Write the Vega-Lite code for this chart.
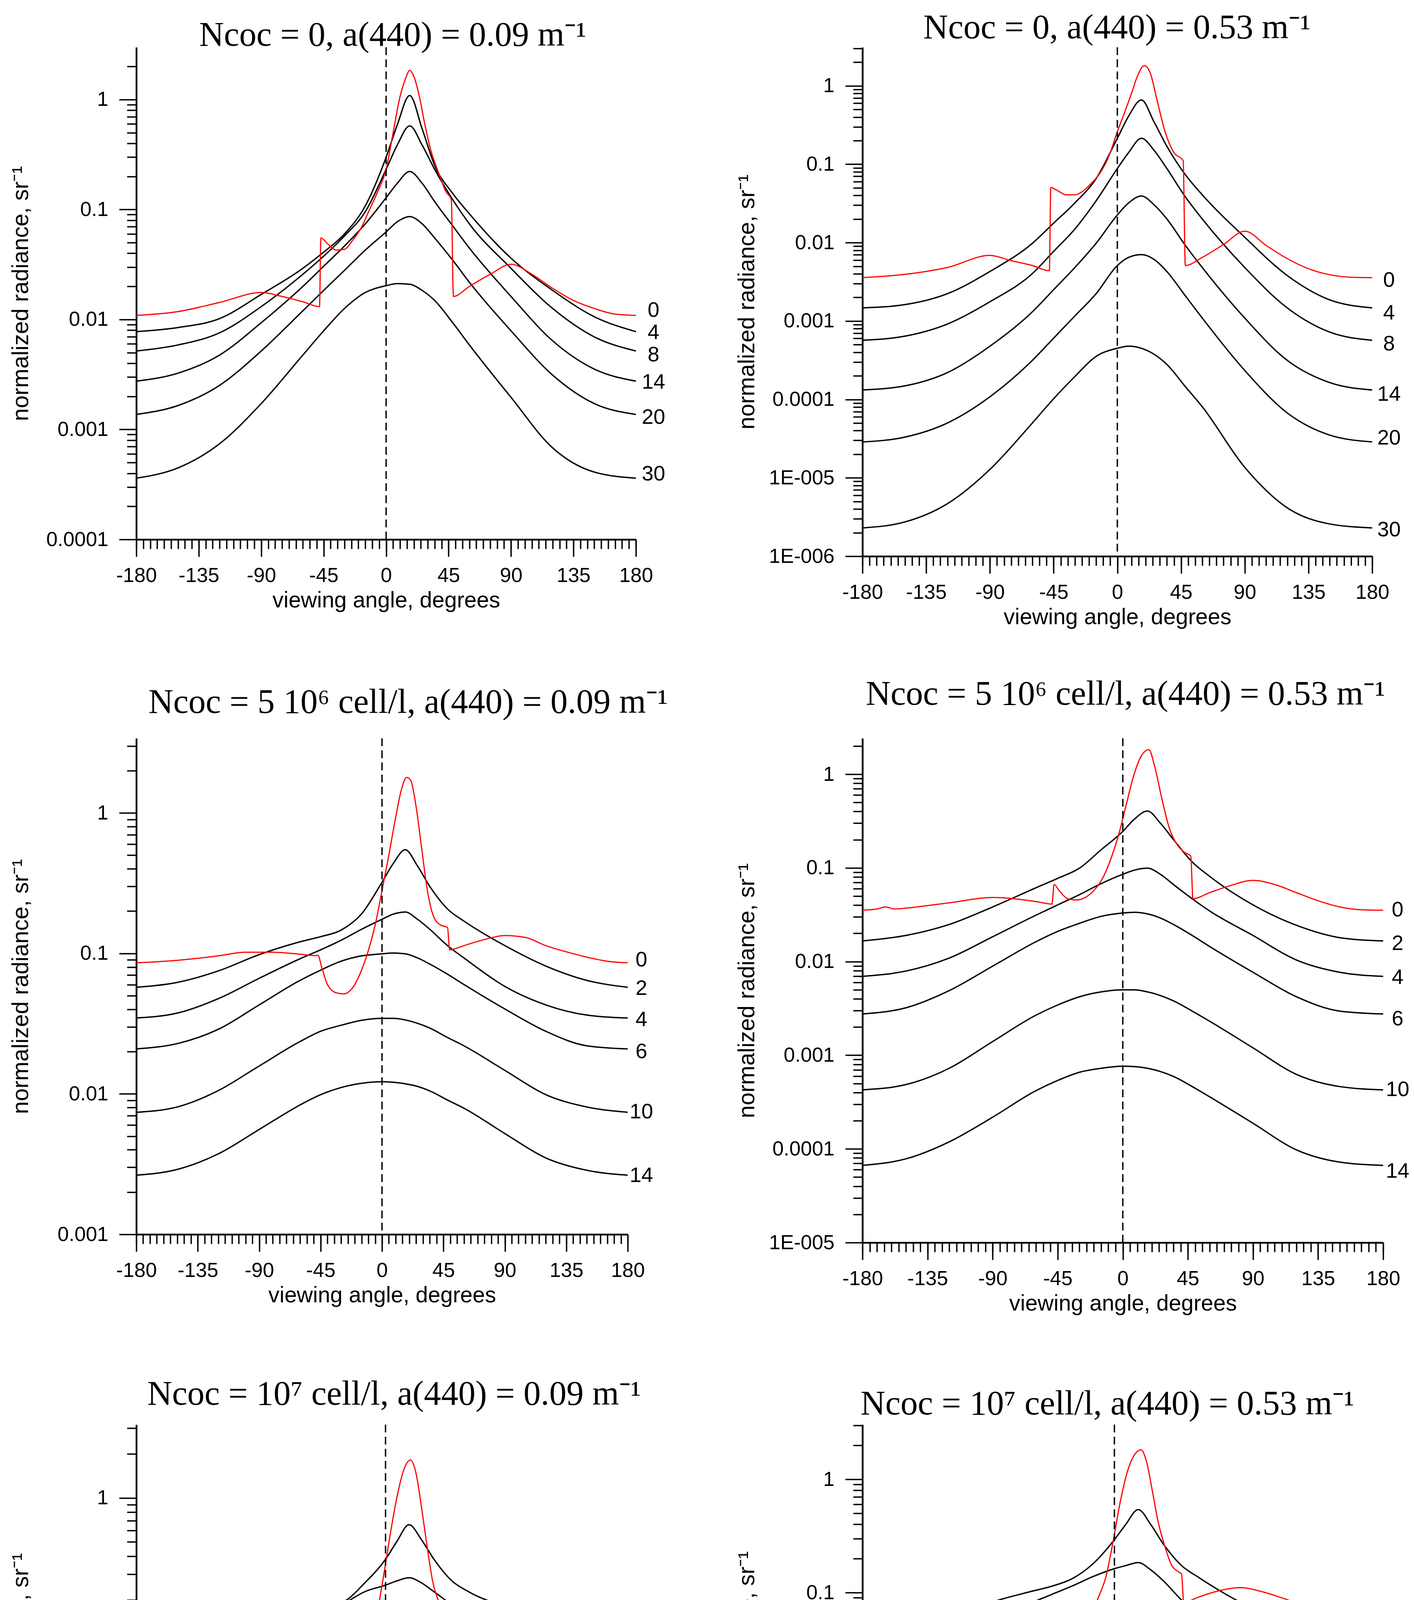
{
  "$schema": "https://vega.github.io/schema/vega-lite/v6.json",
  "padding": {"left": 24, "top": 28, "right": 0, "bottom": 0},
  "background": "white",
  "bounds": "flush",
  "columns": 2,
  "spacing": {"row": 466, "column": 580},
  "datasets": {
    "labels": [
      {"p":1,"d":"0","y":0.01205},{"p":1,"d":"4","y":0.00757},{"p":1,"d":"8","y":0.00475},{"p":1,"d":"14","y":0.00268},{"p":1,"d":"20","y":0.00128},{"p":1,"d":"30","y":0.000393},
      {"p":2,"d":"0","y":0.0033},{"p":2,"d":"4","y":0.00126},{"p":2,"d":"8","y":0.000506},{"p":2,"d":"14","y":0.000115},{"p":2,"d":"20","y":3.19e-5},{"p":2,"d":"30","y":2.16e-6},
      {"p":3,"d":"0","y":0.0898},{"p":3,"d":"2","y":0.0562},{"p":3,"d":"4","y":0.0336},{"p":3,"d":"6","y":0.0199},{"p":3,"d":"10","y":0.0074},{"p":3,"d":"14","y":0.00262},
      {"p":4,"d":"0","y":0.0353},{"p":4,"d":"2","y":0.0155},{"p":4,"d":"4","y":0.00675},{"p":4,"d":"6","y":0.00242},{"p":4,"d":"10","y":0.000427},{"p":4,"d":"14","y":5.74e-5},
      {"p":5,"d":"0","y":0.159},{"p":5,"d":"1","y":0.1009},{"p":5,"d":"2","y":0.064},{"p":5,"d":"4","y":0.0363},{"p":5,"d":"6","y":0.0175},{"p":5,"d":"8","y":0.0087},{"p":5,"d":"10","y":0.00462},
      {"p":6,"d":"0","y":0.0689},{"p":6,"d":"1","y":0.0379},{"p":6,"d":"2","y":0.0211},{"p":6,"d":"4","y":0.00705},{"p":6,"d":"6","y":0.00229},{"p":6,"d":"8","y":0.000615}
    ]
  },
  "data": {
    "values": [
      {"p":1,"d":"4","x":-180,"y":0.00776},{"p":1,"d":"4","x":-150,"y":0.00845},{"p":1,"d":"4","x":-120,"y":0.0102},{"p":1,"d":"4","x":-90,"y":0.0169},{"p":1,"d":"4","x":-60,"y":0.0292},{"p":1,"d":"4","x":-45,"y":0.041},{"p":1,"d":"4","x":-30,"y":0.06},{"p":1,"d":"4","x":-15,"y":0.108},{"p":1,"d":"4","x":0,"y":0.299},{"p":1,"d":"4","x":8,"y":0.587},{"p":1,"d":"4","x":17,"y":1.09},{"p":1,"d":"4","x":26,"y":0.54},{"p":1,"d":"4","x":35,"y":0.252},{"p":1,"d":"4","x":48,"y":0.14},{"p":1,"d":"4","x":60,"y":0.0915},{"p":1,"d":"4","x":90,"y":0.0361},{"p":1,"d":"4","x":120,"y":0.0184},{"p":1,"d":"4","x":150,"y":0.0106},{"p":1,"d":"4","x":180,"y":0.00776},
      {"p":1,"d":"8","x":-180,"y":0.00517},{"p":1,"d":"8","x":-150,"y":0.00587},{"p":1,"d":"8","x":-120,"y":0.00757},{"p":1,"d":"8","x":-90,"y":0.0131},{"p":1,"d":"8","x":-60,"y":0.0258},{"p":1,"d":"8","x":-45,"y":0.0377},{"p":1,"d":"8","x":-30,"y":0.0575},{"p":1,"d":"8","x":-15,"y":0.0955},{"p":1,"d":"8","x":0,"y":0.232},{"p":1,"d":"8","x":8,"y":0.385},{"p":1,"d":"8","x":17,"y":0.577},{"p":1,"d":"8","x":26,"y":0.385},{"p":1,"d":"8","x":35,"y":0.232},{"p":1,"d":"8","x":48,"y":0.123},{"p":1,"d":"8","x":60,"y":0.0741},{"p":1,"d":"8","x":90,"y":0.0292},{"p":1,"d":"8","x":120,"y":0.0126},{"p":1,"d":"8","x":150,"y":0.00695},{"p":1,"d":"8","x":180,"y":0.00517},
      {"p":1,"d":"14","x":-180,"y":0.00275},{"p":1,"d":"14","x":-150,"y":0.00325},{"p":1,"d":"14","x":-120,"y":0.00475},{"p":1,"d":"14","x":-90,"y":0.00935},{"p":1,"d":"14","x":-60,"y":0.02},{"p":1,"d":"14","x":-45,"y":0.0305},{"p":1,"d":"14","x":-30,"y":0.0466},{"p":1,"d":"14","x":-15,"y":0.0741},{"p":1,"d":"14","x":0,"y":0.128},{"p":1,"d":"14","x":8,"y":0.173},{"p":1,"d":"14","x":17,"y":0.222},{"p":1,"d":"14","x":26,"y":0.173},{"p":1,"d":"14","x":35,"y":0.118},{"p":1,"d":"14","x":48,"y":0.071},{"p":1,"d":"14","x":60,"y":0.0446},{"p":1,"d":"14","x":90,"y":0.0162},{"p":1,"d":"14","x":120,"y":0.0064},{"p":1,"d":"14","x":150,"y":0.00354},{"p":1,"d":"14","x":180,"y":0.00275},
      {"p":1,"d":"20","x":-180,"y":0.00137},{"p":1,"d":"20","x":-150,"y":0.00165},{"p":1,"d":"20","x":-120,"y":0.00252},{"p":1,"d":"20","x":-90,"y":0.00517},{"p":1,"d":"20","x":-60,"y":0.012},{"p":1,"d":"20","x":-45,"y":0.0184},{"p":1,"d":"20","x":-30,"y":0.028},{"p":1,"d":"20","x":-15,"y":0.0428},{"p":1,"d":"20","x":0,"y":0.0626},{"p":1,"d":"20","x":8,"y":0.0773},{"p":1,"d":"20","x":17,"y":0.0863},{"p":1,"d":"20","x":26,"y":0.0741},{"p":1,"d":"20","x":35,"y":0.0551},{"p":1,"d":"20","x":48,"y":0.0346},{"p":1,"d":"20","x":60,"y":0.0218},{"p":1,"d":"20","x":90,"y":0.00789},{"p":1,"d":"20","x":120,"y":0.00312},{"p":1,"d":"20","x":150,"y":0.00172},{"p":1,"d":"20","x":180,"y":0.00137},
      {"p":1,"d":"30","x":-180,"y":0.000361},{"p":1,"d":"30","x":-150,"y":0.000447},{"p":1,"d":"30","x":-120,"y":0.000742},{"p":1,"d":"30","x":-90,"y":0.00172},{"p":1,"d":"30","x":-60,"y":0.00475},{"p":1,"d":"30","x":-45,"y":0.00789},{"p":1,"d":"30","x":-30,"y":0.0126},{"p":1,"d":"30","x":-15,"y":0.0176},{"p":1,"d":"30","x":0,"y":0.0203},{"p":1,"d":"30","x":8,"y":0.0212},{"p":1,"d":"30","x":17,"y":0.0209},{"p":1,"d":"30","x":26,"y":0.0184},{"p":1,"d":"30","x":35,"y":0.0149},{"p":1,"d":"30","x":48,"y":0.00935},{"p":1,"d":"30","x":60,"y":0.00587},{"p":1,"d":"30","x":90,"y":0.00196},{"p":1,"d":"30","x":120,"y":0.00068},{"p":1,"d":"30","x":150,"y":0.00041},{"p":1,"d":"30","x":180,"y":0.000361},
      {"p":1,"d":"0","x":-180,"y":0.0109},{"p":1,"d":"0","x":-150,"y":0.0118},{"p":1,"d":"0","x":-120,"y":0.0143},{"p":1,"d":"0","x":-90,"y":0.0176},{"p":1,"d":"0","x":-75,"y":0.0162},{"p":1,"d":"0","x":-60,"y":0.0145},{"p":1,"d":"0","x":-48,"y":0.0131},{"p":1,"d":"0","x":-47,"y":0.0551},{"p":1,"d":"0","x":-42,"y":0.0486},{"p":1,"d":"0","x":-36,"y":0.0428},{"p":1,"d":"0","x":-30,"y":0.0435},{"p":1,"d":"0","x":-24,"y":0.0528},{"p":1,"d":"0","x":-18,"y":0.0681},{"p":1,"d":"0","x":-12,"y":0.0996},{"p":1,"d":"0","x":-6,"y":0.146},{"p":1,"d":"0","x":0,"y":0.232},{"p":1,"d":"0","x":5,"y":0.496},{"p":1,"d":"0","x":10,"y":1.06},{"p":1,"d":"0","x":14,"y":1.55},{"p":1,"d":"0","x":17,"y":1.84},{"p":1,"d":"0","x":20,"y":1.62},{"p":1,"d":"0","x":24,"y":1.06},{"p":1,"d":"0","x":28,"y":0.587},{"p":1,"d":"0","x":32,"y":0.354},{"p":1,"d":"0","x":38,"y":0.213},{"p":1,"d":"0","x":43,"y":0.146},{"p":1,"d":"0","x":47,"y":0.123},{"p":1,"d":"0","x":48.5,"y":0.0162},{"p":1,"d":"0","x":60,"y":0.02},{"p":1,"d":"0","x":75,"y":0.0258},{"p":1,"d":"0","x":90,"y":0.0318},{"p":1,"d":"0","x":105,"y":0.0258},{"p":1,"d":"0","x":120,"y":0.0192},{"p":1,"d":"0","x":135,"y":0.0149},{"p":1,"d":"0","x":150,"y":0.0126},{"p":1,"d":"0","x":165,"y":0.0112},{"p":1,"d":"0","x":180,"y":0.0109},

      {"p":2,"d":"4","x":-180,"y":0.00147},{"p":2,"d":"4","x":-150,"y":0.00162},{"p":2,"d":"4","x":-120,"y":0.00223},{"p":2,"d":"4","x":-90,"y":0.00428},{"p":2,"d":"4","x":-60,"y":0.0098},{"p":2,"d":"4","x":-45,"y":0.0177},{"p":2,"d":"4","x":-30,"y":0.0321},{"p":2,"d":"4","x":-15,"y":0.0654},{"p":2,"d":"4","x":0,"y":0.214},{"p":2,"d":"4","x":8,"y":0.411},{"p":2,"d":"4","x":17,"y":0.661},{"p":2,"d":"4","x":26,"y":0.344},{"p":2,"d":"4","x":35,"y":0.169},{"p":2,"d":"4","x":48,"y":0.0736},{"p":2,"d":"4","x":60,"y":0.0407},{"p":2,"d":"4","x":90,"y":0.0117},{"p":2,"d":"4","x":120,"y":0.0038},{"p":2,"d":"4","x":150,"y":0.00186},{"p":2,"d":"4","x":180,"y":0.00147},
      {"p":2,"d":"8","x":-180,"y":0.000569},{"p":2,"d":"8","x":-150,"y":0.000641},{"p":2,"d":"8","x":-120,"y":0.000915},{"p":2,"d":"8","x":-90,"y":0.00176},{"p":2,"d":"8","x":-60,"y":0.00403},{"p":2,"d":"8","x":-45,"y":0.00773},{"p":2,"d":"8","x":-30,"y":0.0149},{"p":2,"d":"8","x":-15,"y":0.0341},{"p":2,"d":"8","x":0,"y":0.088},{"p":2,"d":"8","x":8,"y":0.141},{"p":2,"d":"8","x":17,"y":0.214},{"p":2,"d":"8","x":26,"y":0.15},{"p":2,"d":"8","x":35,"y":0.088},{"p":2,"d":"8","x":48,"y":0.0384},{"p":2,"d":"8","x":60,"y":0.02},{"p":2,"d":"8","x":90,"y":0.00481},{"p":2,"d":"8","x":120,"y":0.00147},{"p":2,"d":"8","x":150,"y":0.000722},{"p":2,"d":"8","x":180,"y":0.000569},
      {"p":2,"d":"14","x":-180,"y":0.000132},{"p":2,"d":"14","x":-150,"y":0.000149},{"p":2,"d":"14","x":-120,"y":0.00022},{"p":2,"d":"14","x":-90,"y":0.000477},{"p":2,"d":"14","x":-60,"y":0.00131},{"p":2,"d":"14","x":-45,"y":0.00251},{"p":2,"d":"14","x":-30,"y":0.00481},{"p":2,"d":"14","x":-15,"y":0.0098},{"p":2,"d":"14","x":0,"y":0.0225},{"p":2,"d":"14","x":8,"y":0.0321},{"p":2,"d":"14","x":17,"y":0.0393},{"p":2,"d":"14","x":26,"y":0.0303},{"p":2,"d":"14","x":35,"y":0.02},{"p":2,"d":"14","x":48,"y":0.00924},{"p":2,"d":"14","x":60,"y":0.00481},{"p":2,"d":"14","x":90,"y":0.00109},{"p":2,"d":"14","x":120,"y":0.000315},{"p":2,"d":"14","x":150,"y":0.000164},{"p":2,"d":"14","x":180,"y":0.000132},
      {"p":2,"d":"20","x":-180,"y":2.87e-5},{"p":2,"d":"20","x":-150,"y":3.31e-5},{"p":2,"d":"20","x":-120,"y":5.01e-5},{"p":2,"d":"20","x":-90,"y":0.000108},{"p":2,"d":"20","x":-60,"y":0.000315},{"p":2,"d":"20","x":-45,"y":0.000604},{"p":2,"d":"20","x":-30,"y":0.00116},{"p":2,"d":"20","x":-15,"y":0.00223},{"p":2,"d":"20","x":0,"y":0.0051},{"p":2,"d":"20","x":8,"y":0.00648},{"p":2,"d":"20","x":17,"y":0.00703},{"p":2,"d":"20","x":26,"y":0.0061},{"p":2,"d":"20","x":35,"y":0.00428},{"p":2,"d":"20","x":48,"y":0.0021},{"p":2,"d":"20","x":60,"y":0.00109},{"p":2,"d":"20","x":90,"y":0.000234},{"p":2,"d":"20","x":120,"y":6.73e-5},{"p":2,"d":"20","x":150,"y":3.51e-5},{"p":2,"d":"20","x":180,"y":2.87e-5},
      {"p":2,"d":"30","x":-180,"y":2.3e-6},{"p":2,"d":"30","x":-150,"y":2.74e-6},{"p":2,"d":"30","x":-120,"y":4.68e-6},{"p":2,"d":"30","x":-90,"y":1.28e-5},{"p":2,"d":"30","x":-60,"y":5.01e-5},{"p":2,"d":"30","x":-45,"y":0.000102},{"p":2,"d":"30","x":-30,"y":0.000196},{"p":2,"d":"30","x":-15,"y":0.000354},{"p":2,"d":"30","x":0,"y":0.000449},{"p":2,"d":"30","x":8,"y":0.000477},{"p":2,"d":"30","x":17,"y":0.000449},{"p":2,"d":"30","x":26,"y":0.000376},{"p":2,"d":"30","x":35,"y":0.000279},{"p":2,"d":"30","x":48,"y":0.000146},{"p":2,"d":"30","x":60,"y":8.05e-5},{"p":2,"d":"30","x":90,"y":1.36e-5},{"p":2,"d":"30","x":120,"y":4.15e-6},{"p":2,"d":"30","x":150,"y":2.58e-6},{"p":2,"d":"30","x":180,"y":2.3e-6},
      {"p":2,"d":"0","x":-180,"y":0.00358},{"p":2,"d":"0","x":-150,"y":0.00394},{"p":2,"d":"0","x":-120,"y":0.00482},{"p":2,"d":"0","x":-90,"y":0.00687},{"p":2,"d":"0","x":-75,"y":0.00589},{"p":2,"d":"0","x":-60,"y":0.0051},{"p":2,"d":"0","x":-48,"y":0.00438},{"p":2,"d":"0","x":-47,"y":0.0504},{"p":2,"d":"0","x":-43,"y":0.0469},{"p":2,"d":"0","x":-36,"y":0.0407},{"p":2,"d":"0","x":-30,"y":0.0407},{"p":2,"d":"0","x":-24,"y":0.0458},{"p":2,"d":"0","x":-18,"y":0.058},{"p":2,"d":"0","x":-12,"y":0.078},{"p":2,"d":"0","x":-6,"y":0.126},{"p":2,"d":"0","x":0,"y":0.26},{"p":2,"d":"0","x":5,"y":0.45},{"p":2,"d":"0","x":10,"y":0.8},{"p":2,"d":"0","x":14,"y":1.3},{"p":2,"d":"0","x":19,"y":1.81},{"p":2,"d":"0","x":23,"y":1.5},{"p":2,"d":"0","x":28,"y":0.66},{"p":2,"d":"0","x":34,"y":0.25},{"p":2,"d":"0","x":40,"y":0.14},{"p":2,"d":"0","x":46.5,"y":0.111},{"p":2,"d":"0","x":48,"y":0.0051},{"p":2,"d":"0","x":60,"y":0.00648},{"p":2,"d":"0","x":75,"y":0.00946},{"p":2,"d":"0","x":90,"y":0.014},{"p":2,"d":"0","x":105,"y":0.00924},{"p":2,"d":"0","x":120,"y":0.00625},{"p":2,"d":"0","x":135,"y":0.00465},{"p":2,"d":"0","x":150,"y":0.00389},{"p":2,"d":"0","x":165,"y":0.00362},{"p":2,"d":"0","x":180,"y":0.00358},

      {"p":3,"d":"2","x":-180,"y":0.0574},{"p":3,"d":"2","x":-150,"y":0.0622},{"p":3,"d":"2","x":-120,"y":0.075},{"p":3,"d":"2","x":-90,"y":0.098},{"p":3,"d":"2","x":-60,"y":0.121},{"p":3,"d":"2","x":-45,"y":0.1316},{"p":3,"d":"2","x":-30,"y":0.1465},{"p":3,"d":"2","x":-15,"y":0.191},{"p":3,"d":"2","x":0,"y":0.321},{"p":3,"d":"2","x":8,"y":0.433},{"p":3,"d":"2","x":17,"y":0.547},{"p":3,"d":"2","x":26,"y":0.419},{"p":3,"d":"2","x":35,"y":0.3},{"p":3,"d":"2","x":48,"y":0.207},{"p":3,"d":"2","x":60,"y":0.17},{"p":3,"d":"2","x":90,"y":0.1136},{"p":3,"d":"2","x":120,"y":0.0813},{"p":3,"d":"2","x":150,"y":0.0643},{"p":3,"d":"2","x":180,"y":0.0574},
      {"p":3,"d":"4","x":-180,"y":0.0347},{"p":3,"d":"4","x":-150,"y":0.0376},{"p":3,"d":"4","x":-120,"y":0.0476},{"p":3,"d":"4","x":-90,"y":0.0665},{"p":3,"d":"4","x":-60,"y":0.0917},{"p":3,"d":"4","x":-45,"y":0.106},{"p":3,"d":"4","x":-30,"y":0.124},{"p":3,"d":"4","x":-15,"y":0.1485},{"p":3,"d":"4","x":0,"y":0.175},{"p":3,"d":"4","x":8,"y":0.19},{"p":3,"d":"4","x":17,"y":0.197},{"p":3,"d":"4","x":26,"y":0.175},{"p":3,"d":"4","x":35,"y":0.1485},{"p":3,"d":"4","x":48,"y":0.1136},{"p":3,"d":"4","x":60,"y":0.0929},{"p":3,"d":"4","x":90,"y":0.0582},{"p":3,"d":"4","x":120,"y":0.043},{"p":3,"d":"4","x":150,"y":0.0364},{"p":3,"d":"4","x":180,"y":0.0347},
      {"p":3,"d":"6","x":-180,"y":0.0209},{"p":3,"d":"6","x":-150,"y":0.0228},{"p":3,"d":"6","x":-120,"y":0.0288},{"p":3,"d":"6","x":-90,"y":0.043},{"p":3,"d":"6","x":-60,"y":0.0643},{"p":3,"d":"6","x":-45,"y":0.076},{"p":3,"d":"6","x":-30,"y":0.088},{"p":3,"d":"6","x":-15,"y":0.0961},{"p":3,"d":"6","x":0,"y":0.0993},{"p":3,"d":"6","x":8,"y":0.1007},{"p":3,"d":"6","x":17,"y":0.0993},{"p":3,"d":"6","x":26,"y":0.0929},{"p":3,"d":"6","x":35,"y":0.084},{"p":3,"d":"6","x":48,"y":0.0711},{"p":3,"d":"6","x":60,"y":0.0601},{"p":3,"d":"6","x":90,"y":0.0402},{"p":3,"d":"6","x":120,"y":0.0279},{"p":3,"d":"6","x":150,"y":0.022},{"p":3,"d":"6","x":180,"y":0.0209},
      {"p":3,"d":"10","x":-180,"y":0.0074},{"p":3,"d":"10","x":-150,"y":0.00807},{"p":3,"d":"10","x":-120,"y":0.01055},{"p":3,"d":"10","x":-90,"y":0.0158},{"p":3,"d":"10","x":-60,"y":0.0236},{"p":3,"d":"10","x":-45,"y":0.0279},{"p":3,"d":"10","x":-30,"y":0.0308},{"p":3,"d":"10","x":-15,"y":0.0334},{"p":3,"d":"10","x":0,"y":0.0345},{"p":3,"d":"10","x":8,"y":0.0345},{"p":3,"d":"10","x":17,"y":0.0336},{"p":3,"d":"10","x":26,"y":0.0318},{"p":3,"d":"10","x":35,"y":0.0294},{"p":3,"d":"10","x":48,"y":0.0252},{"p":3,"d":"10","x":60,"y":0.022},{"p":3,"d":"10","x":90,"y":0.0147},{"p":3,"d":"10","x":120,"y":0.00987},{"p":3,"d":"10","x":150,"y":0.00807},{"p":3,"d":"10","x":180,"y":0.0074},
      {"p":3,"d":"14","x":-180,"y":0.00264},{"p":3,"d":"14","x":-150,"y":0.0029},{"p":3,"d":"14","x":-120,"y":0.00374},{"p":3,"d":"14","x":-90,"y":0.00558},{"p":3,"d":"14","x":-60,"y":0.00835},{"p":3,"d":"14","x":-45,"y":0.00987},{"p":3,"d":"14","x":-30,"y":0.0111},{"p":3,"d":"14","x":-15,"y":0.0119},{"p":3,"d":"14","x":0,"y":0.0122},{"p":3,"d":"14","x":8,"y":0.0121},{"p":3,"d":"14","x":17,"y":0.0118},{"p":3,"d":"14","x":26,"y":0.0113},{"p":3,"d":"14","x":35,"y":0.0105},{"p":3,"d":"14","x":48,"y":0.00904},{"p":3,"d":"14","x":60,"y":0.00791},{"p":3,"d":"14","x":90,"y":0.00522},{"p":3,"d":"14","x":120,"y":0.0035},{"p":3,"d":"14","x":150,"y":0.00286},{"p":3,"d":"14","x":180,"y":0.00264},
      {"p":3,"d":"0","x":-180,"y":0.0857},{"p":3,"d":"0","x":-150,"y":0.0893},{"p":3,"d":"0","x":-120,"y":0.0961},{"p":3,"d":"0","x":-100,"y":0.102},{"p":3,"d":"0","x":-80,"y":0.102},{"p":3,"d":"0","x":-60,"y":0.0987},{"p":3,"d":"0","x":-49,"y":0.0965},{"p":3,"d":"0","x":-47,"y":0.097},{"p":3,"d":"0","x":-44,"y":0.0786},{"p":3,"d":"0","x":-40,"y":0.0601},{"p":3,"d":"0","x":-34,"y":0.0526},{"p":3,"d":"0","x":-28,"y":0.0515},{"p":3,"d":"0","x":-22,"y":0.0562},{"p":3,"d":"0","x":-16,"y":0.072},{"p":3,"d":"0","x":-10,"y":0.105},{"p":3,"d":"0","x":-5,"y":0.16},{"p":3,"d":"0","x":0,"y":0.28},{"p":3,"d":"0","x":5,"y":0.5},{"p":3,"d":"0","x":10,"y":0.93},{"p":3,"d":"0","x":14,"y":1.44},{"p":3,"d":"0","x":18,"y":1.79},{"p":3,"d":"0","x":21,"y":1.71},{"p":3,"d":"0","x":25,"y":1.1},{"p":3,"d":"0","x":29,"y":0.566},{"p":3,"d":"0","x":33,"y":0.29},{"p":3,"d":"0","x":38,"y":0.181},{"p":3,"d":"0","x":43,"y":0.159},{"p":3,"d":"0","x":48,"y":0.153},{"p":3,"d":"0","x":49.5,"y":0.106},{"p":3,"d":"0","x":60,"y":0.1136},{"p":3,"d":"0","x":75,"y":0.1256},{"p":3,"d":"0","x":90,"y":0.134},{"p":3,"d":"0","x":105,"y":0.13},{"p":3,"d":"0","x":120,"y":0.1136},{"p":3,"d":"0","x":135,"y":0.1027},{"p":3,"d":"0","x":150,"y":0.0941},{"p":3,"d":"0","x":165,"y":0.088},{"p":3,"d":"0","x":180,"y":0.0857},

      {"p":4,"d":"2","x":-180,"y":0.0166},{"p":4,"d":"2","x":-150,"y":0.019},{"p":4,"d":"2","x":-120,"y":0.0249},{"p":4,"d":"2","x":-90,"y":0.0383},{"p":4,"d":"2","x":-60,"y":0.0614},{"p":4,"d":"2","x":-45,"y":0.0773},{"p":4,"d":"2","x":-30,"y":0.0993},{"p":4,"d":"2","x":-15,"y":0.156},{"p":4,"d":"2","x":0,"y":0.245},{"p":4,"d":"2","x":8,"y":0.331},{"p":4,"d":"2","x":17,"y":0.405},{"p":4,"d":"2","x":26,"y":0.3},{"p":4,"d":"2","x":35,"y":0.201},{"p":4,"d":"2","x":48,"y":0.1156},{"p":4,"d":"2","x":60,"y":0.0813},{"p":4,"d":"2","x":90,"y":0.0403},{"p":4,"d":"2","x":120,"y":0.0244},{"p":4,"d":"2","x":150,"y":0.018},{"p":4,"d":"2","x":180,"y":0.0166},
      {"p":4,"d":"4","x":-180,"y":0.00695},{"p":4,"d":"4","x":-150,"y":0.00792},{"p":4,"d":"4","x":-120,"y":0.0109},{"p":4,"d":"4","x":-90,"y":0.0184},{"p":4,"d":"4","x":-60,"y":0.0313},{"p":4,"d":"4","x":-45,"y":0.0403},{"p":4,"d":"4","x":-30,"y":0.0518},{"p":4,"d":"4","x":-15,"y":0.0679},{"p":4,"d":"4","x":0,"y":0.0855},{"p":4,"d":"4","x":8,"y":0.0946},{"p":4,"d":"4","x":17,"y":0.0993},{"p":4,"d":"4","x":26,"y":0.0855},{"p":4,"d":"4","x":35,"y":0.0665},{"p":4,"d":"4","x":48,"y":0.0468},{"p":4,"d":"4","x":60,"y":0.0347},{"p":4,"d":"4","x":90,"y":0.019},{"p":4,"d":"4","x":120,"y":0.0104},{"p":4,"d":"4","x":150,"y":0.00769},{"p":4,"d":"4","x":180,"y":0.00695},
      {"p":4,"d":"6","x":-180,"y":0.00276},{"p":4,"d":"6","x":-150,"y":0.00321},{"p":4,"d":"6","x":-120,"y":0.0049},{"p":4,"d":"6","x":-90,"y":0.00893},{"p":4,"d":"6","x":-60,"y":0.0163},{"p":4,"d":"6","x":-45,"y":0.021},{"p":4,"d":"6","x":-30,"y":0.0256},{"p":4,"d":"6","x":-15,"y":0.0304},{"p":4,"d":"6","x":0,"y":0.033},{"p":4,"d":"6","x":8,"y":0.0336},{"p":4,"d":"6","x":17,"y":0.0323},{"p":4,"d":"6","x":26,"y":0.0292},{"p":4,"d":"6","x":35,"y":0.0249},{"p":4,"d":"6","x":48,"y":0.019},{"p":4,"d":"6","x":60,"y":0.0145},{"p":4,"d":"6","x":90,"y":0.00769},{"p":4,"d":"6","x":120,"y":0.00421},{"p":4,"d":"6","x":150,"y":0.00296},{"p":4,"d":"6","x":180,"y":0.00276},
      {"p":4,"d":"10","x":-180,"y":0.000427},{"p":4,"d":"10","x":-150,"y":0.000486},{"p":4,"d":"10","x":-120,"y":0.000726},{"p":4,"d":"10","x":-90,"y":0.0014},{"p":4,"d":"10","x":-60,"y":0.00268},{"p":4,"d":"10","x":-45,"y":0.00344},{"p":4,"d":"10","x":-30,"y":0.00421},{"p":4,"d":"10","x":-15,"y":0.00475},{"p":4,"d":"10","x":0,"y":0.00499},{"p":4,"d":"10","x":8,"y":0.00499},{"p":4,"d":"10","x":17,"y":0.00475},{"p":4,"d":"10","x":26,"y":0.00434},{"p":4,"d":"10","x":35,"y":0.00381},{"p":4,"d":"10","x":48,"y":0.00296},{"p":4,"d":"10","x":60,"y":0.00231},{"p":4,"d":"10","x":90,"y":0.0012},{"p":4,"d":"10","x":120,"y":0.000625},{"p":4,"d":"10","x":150,"y":0.000463},{"p":4,"d":"10","x":180,"y":0.000427},
      {"p":4,"d":"14","x":-180,"y":6.67e-5},{"p":4,"d":"14","x":-150,"y":7.83e-5},{"p":4,"d":"14","x":-120,"y":0.000119},{"p":4,"d":"14","x":-90,"y":0.000218},{"p":4,"d":"14","x":-60,"y":0.000419},{"p":4,"d":"14","x":-45,"y":0.000538},{"p":4,"d":"14","x":-30,"y":0.000658},{"p":4,"d":"14","x":-15,"y":0.000726},{"p":4,"d":"14","x":0,"y":0.000764},{"p":4,"d":"14","x":8,"y":0.000757},{"p":4,"d":"14","x":17,"y":0.000726},{"p":4,"d":"14","x":26,"y":0.00067},{"p":4,"d":"14","x":35,"y":0.000594},{"p":4,"d":"14","x":48,"y":0.000463},{"p":4,"d":"14","x":60,"y":0.00036},{"p":4,"d":"14","x":90,"y":0.000188},{"p":4,"d":"14","x":120,"y":9.77e-5},{"p":4,"d":"14","x":150,"y":7.23e-5},{"p":4,"d":"14","x":180,"y":6.67e-5},
      {"p":4,"d":"0","x":-180,"y":0.0353},{"p":4,"d":"0","x":-170,"y":0.0364},{"p":4,"d":"0","x":-164,"y":0.0383},{"p":4,"d":"0","x":-158,"y":0.0364},{"p":4,"d":"0","x":-150,"y":0.0372},{"p":4,"d":"0","x":-120,"y":0.0424},{"p":4,"d":"0","x":-90,"y":0.0483},{"p":4,"d":"0","x":-75,"y":0.0468},{"p":4,"d":"0","x":-60,"y":0.0437},{"p":4,"d":"0","x":-49,"y":0.0411},{"p":4,"d":"0","x":-47.5,"y":0.0665},{"p":4,"d":"0","x":-44,"y":0.0573},{"p":4,"d":"0","x":-38,"y":0.0468},{"p":4,"d":"0","x":-32,"y":0.0454},{"p":4,"d":"0","x":-26,"y":0.0483},{"p":4,"d":"0","x":-20,"y":0.0573},{"p":4,"d":"0","x":-14,"y":0.0773},{"p":4,"d":"0","x":-8,"y":0.128},{"p":4,"d":"0","x":-3,"y":0.222},{"p":4,"d":"0","x":2,"y":0.448},{"p":4,"d":"0","x":7,"y":0.904},{"p":4,"d":"0","x":12,"y":1.49},{"p":4,"d":"0","x":18,"y":1.83},{"p":4,"d":"0","x":22,"y":1.22},{"p":4,"d":"0","x":27,"y":0.548},{"p":4,"d":"0","x":32,"y":0.271},{"p":4,"d":"0","x":38,"y":0.173},{"p":4,"d":"0","x":43,"y":0.1456},{"p":4,"d":"0","x":47,"y":0.134},{"p":4,"d":"0","x":48.5,"y":0.0468},{"p":4,"d":"0","x":60,"y":0.0544},{"p":4,"d":"0","x":75,"y":0.0652},{"p":4,"d":"0","x":90,"y":0.0736},{"p":4,"d":"0","x":105,"y":0.0665},{"p":4,"d":"0","x":120,"y":0.0544},{"p":4,"d":"0","x":135,"y":0.0446},{"p":4,"d":"0","x":150,"y":0.0383},{"p":4,"d":"0","x":165,"y":0.0357},{"p":4,"d":"0","x":180,"y":0.0353},

      {"p":5,"d":"1","x":-180,"y":0.1009},{"p":5,"d":"1","x":-150,"y":0.1117},{"p":5,"d":"1","x":-120,"y":0.1298},{"p":5,"d":"1","x":-90,"y":0.1467},{"p":5,"d":"1","x":-60,"y":0.168},{"p":5,"d":"1","x":-45,"y":0.18},{"p":5,"d":"1","x":-30,"y":0.1953},{"p":5,"d":"1","x":-15,"y":0.262},{"p":5,"d":"1","x":0,"y":0.38},{"p":5,"d":"1","x":8,"y":0.5},{"p":5,"d":"1","x":17,"y":0.656},{"p":5,"d":"1","x":26,"y":0.517},{"p":5,"d":"1","x":35,"y":0.38},{"p":5,"d":"1","x":48,"y":0.27},{"p":5,"d":"1","x":60,"y":0.228},{"p":5,"d":"1","x":90,"y":0.174},{"p":5,"d":"1","x":120,"y":0.1324},{"p":5,"d":"1","x":150,"y":0.1102},{"p":5,"d":"1","x":180,"y":0.1009},
      {"p":5,"d":"2","x":-180,"y":0.0728},{"p":5,"d":"2","x":-150,"y":0.0839},{"p":5,"d":"2","x":-120,"y":0.098},{"p":5,"d":"2","x":-90,"y":0.1197},{"p":5,"d":"2","x":-60,"y":0.1486},{"p":5,"d":"2","x":-45,"y":0.168},{"p":5,"d":"2","x":-30,"y":0.19},{"p":5,"d":"2","x":-15,"y":0.228},{"p":5,"d":"2","x":0,"y":0.253},{"p":5,"d":"2","x":8,"y":0.27},{"p":5,"d":"2","x":17,"y":0.284},{"p":5,"d":"2","x":26,"y":0.262},{"p":5,"d":"2","x":35,"y":0.228},{"p":5,"d":"2","x":48,"y":0.186},{"p":5,"d":"2","x":60,"y":0.1625},{"p":5,"d":"2","x":90,"y":0.1197},{"p":5,"d":"2","x":120,"y":0.0881},{"p":5,"d":"2","x":150,"y":0.0769},{"p":5,"d":"2","x":180,"y":0.0728},
      {"p":5,"d":"4","x":-180,"y":0.0368},{"p":5,"d":"4","x":-150,"y":0.0417},{"p":5,"d":"4","x":-120,"y":0.0547},{"p":5,"d":"4","x":-90,"y":0.0743},{"p":5,"d":"4","x":-60,"y":0.0942},{"p":5,"d":"4","x":-45,"y":0.103},{"p":5,"d":"4","x":-30,"y":0.1102},{"p":5,"d":"4","x":-15,"y":0.114},{"p":5,"d":"4","x":0,"y":0.1156},{"p":5,"d":"4","x":8,"y":0.1156},{"p":5,"d":"4","x":17,"y":0.1132},{"p":5,"d":"4","x":26,"y":0.1079},{"p":5,"d":"4","x":35,"y":0.1009},{"p":5,"d":"4","x":48,"y":0.0881},{"p":5,"d":"4","x":60,"y":0.0784},{"p":5,"d":"4","x":90,"y":0.0585},{"p":5,"d":"4","x":120,"y":0.0446},{"p":5,"d":"4","x":150,"y":0.0381},{"p":5,"d":"4","x":180,"y":0.0368},
      {"p":5,"d":"6","x":-180,"y":0.0182},{"p":5,"d":"6","x":-150,"y":0.0207},{"p":5,"d":"6","x":-120,"y":0.0267},{"p":5,"d":"6","x":-90,"y":0.0371},{"p":5,"d":"6","x":-60,"y":0.0477},{"p":5,"d":"6","x":-45,"y":0.0521},{"p":5,"d":"6","x":-30,"y":0.0554},{"p":5,"d":"6","x":-15,"y":0.057},{"p":5,"d":"6","x":0,"y":0.0573},{"p":5,"d":"6","x":8,"y":0.057},{"p":5,"d":"6","x":17,"y":0.0558},{"p":5,"d":"6","x":26,"y":0.0536},{"p":5,"d":"6","x":35,"y":0.05},{"p":5,"d":"6","x":48,"y":0.0446},{"p":5,"d":"6","x":60,"y":0.0397},{"p":5,"d":"6","x":90,"y":0.029},{"p":5,"d":"6","x":120,"y":0.0218},{"p":5,"d":"6","x":150,"y":0.019},{"p":5,"d":"6","x":180,"y":0.0182},
      {"p":5,"d":"8","x":-180,"y":0.00912},{"p":5,"d":"8","x":-150,"y":0.0103},{"p":5,"d":"8","x":-120,"y":0.0134},{"p":5,"d":"8","x":-90,"y":0.0184},{"p":5,"d":"8","x":-60,"y":0.0237},{"p":5,"d":"8","x":-45,"y":0.0259},{"p":5,"d":"8","x":-30,"y":0.0273},{"p":5,"d":"8","x":-15,"y":0.028},{"p":5,"d":"8","x":0,"y":0.0283},{"p":5,"d":"8","x":8,"y":0.028},{"p":5,"d":"8","x":17,"y":0.0275},{"p":5,"d":"8","x":26,"y":0.0264},{"p":5,"d":"8","x":35,"y":0.0247},{"p":5,"d":"8","x":48,"y":0.0221},{"p":5,"d":"8","x":60,"y":0.0197},{"p":5,"d":"8","x":90,"y":0.0145},{"p":5,"d":"8","x":120,"y":0.0109},{"p":5,"d":"8","x":150,"y":0.0095},{"p":5,"d":"8","x":180,"y":0.00912},
      {"p":5,"d":"10","x":-180,"y":0.00456},{"p":5,"d":"10","x":-150,"y":0.00515},{"p":5,"d":"10","x":-120,"y":0.00662},{"p":5,"d":"10","x":-90,"y":0.00912},{"p":5,"d":"10","x":-60,"y":0.0118},{"p":5,"d":"10","x":-45,"y":0.0128},{"p":5,"d":"10","x":-30,"y":0.0135},{"p":5,"d":"10","x":-15,"y":0.014},{"p":5,"d":"10","x":0,"y":0.0142},{"p":5,"d":"10","x":8,"y":0.0141},{"p":5,"d":"10","x":17,"y":0.0138},{"p":5,"d":"10","x":26,"y":0.0133},{"p":5,"d":"10","x":35,"y":0.0124},{"p":5,"d":"10","x":48,"y":0.011},{"p":5,"d":"10","x":60,"y":0.00984},{"p":5,"d":"10","x":90,"y":0.00724},{"p":5,"d":"10","x":120,"y":0.0054},{"p":5,"d":"10","x":150,"y":0.00472},{"p":5,"d":"10","x":180,"y":0.00456},
      {"p":5,"d":"0","x":-180,"y":0.1324},{"p":5,"d":"0","x":-150,"y":0.137},{"p":5,"d":"0","x":-120,"y":0.145},{"p":5,"d":"0","x":-90,"y":0.151},{"p":5,"d":"0","x":-60,"y":0.1486},{"p":5,"d":"0","x":-48,"y":0.145},{"p":5,"d":"0","x":-45,"y":0.1156},{"p":5,"d":"0","x":-42,"y":0.0851},{"p":5,"d":"0","x":-37,"y":0.0657},{"p":5,"d":"0","x":-32,"y":0.0585},{"p":5,"d":"0","x":-27,"y":0.0573},{"p":5,"d":"0","x":-22,"y":0.0605},{"p":5,"d":"0","x":-17,"y":0.0718},{"p":5,"d":"0","x":-12,"y":0.0942},{"p":5,"d":"0","x":-7,"y":0.147},{"p":5,"d":"0","x":-2,"y":0.27},{"p":5,"d":"0","x":3,"y":0.535},{"p":5,"d":"0","x":8,"y":0.986},{"p":5,"d":"0","x":13,"y":1.54},{"p":5,"d":"0","x":18,"y":1.82},{"p":5,"d":"0","x":22,"y":1.48},{"p":5,"d":"0","x":26,"y":0.861},{"p":5,"d":"0","x":30,"y":0.467},{"p":5,"d":"0","x":34,"y":0.27},{"p":5,"d":"0","x":39,"y":0.193},{"p":5,"d":"0","x":44,"y":0.176},{"p":5,"d":"0","x":46,"y":0.184},{"p":5,"d":"0","x":47.5,"y":0.176},{"p":5,"d":"0","x":48.5,"y":0.155},{"p":5,"d":"0","x":60,"y":0.166},{"p":5,"d":"0","x":75,"y":0.176},{"p":5,"d":"0","x":90,"y":0.184},{"p":5,"d":"0","x":105,"y":0.18},{"p":5,"d":"0","x":120,"y":0.1625},{"p":5,"d":"0","x":135,"y":0.147},{"p":5,"d":"0","x":150,"y":0.137},{"p":5,"d":"0","x":165,"y":0.1324},{"p":5,"d":"0","x":180,"y":0.1324},

      {"p":6,"d":"1","x":-180,"y":0.04},{"p":6,"d":"1","x":-150,"y":0.0445},{"p":6,"d":"1","x":-120,"y":0.0578},{"p":6,"d":"1","x":-90,"y":0.0807},{"p":6,"d":"1","x":-60,"y":0.102},{"p":6,"d":"1","x":-45,"y":0.1136},{"p":6,"d":"1","x":-30,"y":0.133},{"p":6,"d":"1","x":-15,"y":0.181},{"p":6,"d":"1","x":0,"y":0.293},{"p":6,"d":"1","x":8,"y":0.398},{"p":6,"d":"1","x":17,"y":0.541},{"p":6,"d":"1","x":26,"y":0.398},{"p":6,"d":"1","x":35,"y":0.268},{"p":6,"d":"1","x":48,"y":0.173},{"p":6,"d":"1","x":60,"y":0.1366},{"p":6,"d":"1","x":90,"y":0.082},{"p":6,"d":"1","x":120,"y":0.0553},{"p":6,"d":"1","x":150,"y":0.0437},{"p":6,"d":"1","x":180,"y":0.04},
      {"p":6,"d":"2","x":-180,"y":0.0228},{"p":6,"d":"2","x":-150,"y":0.0267},{"p":6,"d":"2","x":-120,"y":0.0373},{"p":6,"d":"2","x":-90,"y":0.0553},{"p":6,"d":"2","x":-60,"y":0.0807},{"p":6,"d":"2","x":-45,"y":0.0961},{"p":6,"d":"2","x":-30,"y":0.1146},{"p":6,"d":"2","x":-15,"y":0.139},{"p":6,"d":"2","x":0,"y":0.1627},{"p":6,"d":"2","x":8,"y":0.173},{"p":6,"d":"2","x":17,"y":0.184},{"p":6,"d":"2","x":26,"y":0.1585},{"p":6,"d":"2","x":35,"y":0.127},{"p":6,"d":"2","x":48,"y":0.0858},{"p":6,"d":"2","x":60,"y":0.0631},{"p":6,"d":"2","x":90,"y":0.0373},{"p":6,"d":"2","x":120,"y":0.0274},{"p":6,"d":"2","x":150,"y":0.024},{"p":6,"d":"2","x":180,"y":0.0228},
      {"p":6,"d":"4","x":-180,"y":0.00686},{"p":6,"d":"4","x":-150,"y":0.00803},{"p":6,"d":"4","x":-120,"y":0.0114},{"p":6,"d":"4","x":-90,"y":0.0185},{"p":6,"d":"4","x":-60,"y":0.0292},{"p":6,"d":"4","x":-45,"y":0.0341},{"p":6,"d":"4","x":-30,"y":0.0389},{"p":6,"d":"4","x":-15,"y":0.0425},{"p":6,"d":"4","x":0,"y":0.0437},{"p":6,"d":"4","x":8,"y":0.0437},{"p":6,"d":"4","x":17,"y":0.0421},{"p":6,"d":"4","x":26,"y":0.0389},{"p":6,"d":"4","x":35,"y":0.0348},{"p":6,"d":"4","x":48,"y":0.0282},{"p":6,"d":"4","x":60,"y":0.023},{"p":6,"d":"4","x":90,"y":0.0142},{"p":6,"d":"4","x":120,"y":0.00916},{"p":6,"d":"4","x":150,"y":0.00736},{"p":6,"d":"4","x":180,"y":0.00686},
      {"p":6,"d":"6","x":-180,"y":0.00206},{"p":6,"d":"6","x":-150,"y":0.00239},{"p":6,"d":"6","x":-120,"y":0.00343},{"p":6,"d":"6","x":-90,"y":0.00565},{"p":6,"d":"6","x":-60,"y":0.00877},{"p":6,"d":"6","x":-45,"y":0.0102},{"p":6,"d":"6","x":-30,"y":0.0117},{"p":6,"d":"6","x":-15,"y":0.0127},{"p":6,"d":"6","x":0,"y":0.013},{"p":6,"d":"6","x":8,"y":0.0129},{"p":6,"d":"6","x":17,"y":0.0125},{"p":6,"d":"6","x":26,"y":0.0117},{"p":6,"d":"6","x":35,"y":0.0104},{"p":6,"d":"6","x":48,"y":0.00853},{"p":6,"d":"6","x":60,"y":0.00705},{"p":6,"d":"6","x":90,"y":0.00424},{"p":6,"d":"6","x":120,"y":0.00273},{"p":6,"d":"6","x":150,"y":0.00221},{"p":6,"d":"6","x":180,"y":0.00206},
      {"p":6,"d":"8","x":-180,"y":0.000604},{"p":6,"d":"8","x":-150,"y":0.000708},{"p":6,"d":"8","x":-120,"y":0.001},{"p":6,"d":"8","x":-90,"y":0.00166},{"p":6,"d":"8","x":-60,"y":0.00257},{"p":6,"d":"8","x":-45,"y":0.00306},{"p":6,"d":"8","x":-30,"y":0.00349},{"p":6,"d":"8","x":-15,"y":0.00378},{"p":6,"d":"8","x":0,"y":0.00388},{"p":6,"d":"8","x":8,"y":0.00385},{"p":6,"d":"8","x":17,"y":0.00372},{"p":6,"d":"8","x":26,"y":0.00349},{"p":6,"d":"8","x":35,"y":0.00314},{"p":6,"d":"8","x":48,"y":0.00257},{"p":6,"d":"8","x":60,"y":0.0021},{"p":6,"d":"8","x":90,"y":0.00127},{"p":6,"d":"8","x":120,"y":0.00082},{"p":6,"d":"8","x":150,"y":0.000659},{"p":6,"d":"8","x":180,"y":0.000604},
      {"p":6,"d":"0","x":-180,"y":0.0631},{"p":6,"d":"0","x":-170,"y":0.0643},{"p":6,"d":"0","x":-163,"y":0.0677},{"p":6,"d":"0","x":-158,"y":0.0665},{"p":6,"d":"0","x":-150,"y":0.0677},{"p":6,"d":"0","x":-120,"y":0.0726},{"p":6,"d":"0","x":-90,"y":0.0779},{"p":6,"d":"0","x":-75,"y":0.0779},{"p":6,"d":"0","x":-60,"y":0.0752},{"p":6,"d":"0","x":-48,"y":0.0726},{"p":6,"d":"0","x":-46.5,"y":0.0835},{"p":6,"d":"0","x":-43,"y":0.0726},{"p":6,"d":"0","x":-38,"y":0.0589},{"p":6,"d":"0","x":-33,"y":0.0507},{"p":6,"d":"0","x":-28,"y":0.0493},{"p":6,"d":"0","x":-23,"y":0.053},{"p":6,"d":"0","x":-17,"y":0.0659},{"p":6,"d":"0","x":-11,"y":0.0936},{"p":6,"d":"0","x":-6,"y":0.139},{"p":6,"d":"0","x":-1,"y":0.28},{"p":6,"d":"0","x":4,"y":0.617},{"p":6,"d":"0","x":9,"y":1.14},{"p":6,"d":"0","x":14,"y":1.62},{"p":6,"d":"0","x":19,"y":1.82},{"p":6,"d":"0","x":23,"y":1.42},{"p":6,"d":"0","x":27,"y":0.803},{"p":6,"d":"0","x":31,"y":0.435},{"p":6,"d":"0","x":36,"y":0.257},{"p":6,"d":"0","x":41,"y":0.173},{"p":6,"d":"0","x":46,"y":0.152},{"p":6,"d":"0","x":48,"y":0.145},{"p":6,"d":"0","x":49.5,"y":0.082},{"p":6,"d":"0","x":60,"y":0.0912},{"p":6,"d":"0","x":75,"y":0.104},{"p":6,"d":"0","x":90,"y":0.1106},{"p":6,"d":"0","x":105,"y":0.1022},{"p":6,"d":"0","x":120,"y":0.0896},{"p":6,"d":"0","x":135,"y":0.0772},{"p":6,"d":"0","x":150,"y":0.0689},{"p":6,"d":"0","x":165,"y":0.0643},{"p":6,"d":"0","x":180,"y":0.0631}
    ]
  },
  "concat": [
    {
      "width": 1279, "height": 1260,
      "title": {"text": "Ncoc = 0, a(440) = 0.09 m⁻¹", "dx": 17, "offset": -16},
      "transform": [{"filter": "datum.p == 1"}],
      "layer": [
        {"transform": [{"filter": "datum.d != '0'"}],
         "mark": {"type": "line", "color": "black", "strokeWidth": 3.5, "interpolate": "monotone"},
         "encoding": {
           "x": {"field": "x", "type": "quantitative", "scale": {"domain": [-180, 180], "nice": false, "zero": false},
                 "axis": {"orient": "bottom", "title": "viewing angle, degrees", "values": [-180,-135,-90,-45,0,45,90,135,180]}},
           "y": {"field": "y", "type": "quantitative", "scale": {"type": "log", "domain": [0.0001, 2.99], "nice": false},
                 "axis": {"orient": "left", "title": "normalized radiance, sr⁻¹", "values": [0.0001,0.001,0.01,0.1,1]}},
           "detail": {"field": "d"}}},
        {"transform": [{"filter": "datum.d == '0'"}],
         "mark": {"type": "line", "color": "#ff0000", "strokeWidth": 3, "interpolate": "monotone"},
         "encoding": {
           "x": {"field": "x", "type": "quantitative", "scale": {"domain": [-180, 180], "nice": false, "zero": false},
                 "axis": {"orient": "bottom", "title": null, "labels": false, "domain": false, "tickSize": 24, "values": [-180,-175,-170,-165,-160,-155,-150,-145,-140,-135,-130,-125,-120,-115,-110,-105,-100,-95,-90,-85,-80,-75,-70,-65,-60,-55,-50,-45,-40,-35,-30,-25,-20,-15,-10,-5,0,5,10,15,20,25,30,35,40,45,50,55,60,65,70,75,80,85,90,95,100,105,110,115,120,125,130,135,140,145,150,155,160,165,170,175,180]}},
           "y": {"field": "y", "type": "quantitative", "scale": {"type": "log", "domain": [0.0001, 2.99], "nice": false},
                 "axis": {"orient": "left", "title": null, "labels": false, "domain": false, "tickSize": 24, "values": [0.0002,0.0003,0.0004,0.0005,0.0006,0.0007,0.0008,0.0009,0.002,0.003,0.004,0.005,0.006,0.007,0.008,0.009,0.02,0.03,0.04,0.05,0.06,0.07,0.08,0.09,0.2,0.3,0.4,0.5,0.6,0.7,0.8,0.9,2]}}}},
        {"data": {"values": [{}]},
         "mark": {"type": "rule", "color": "black", "strokeWidth": 3.5, "strokeDash": [20, 11]},
         "encoding": {"x": {"datum": 0, "type": "quantitative", "scale": {"domain": [-180, 180], "nice": false, "zero": false}, "axis": null}}},
        {"data": {"name": "labels"},
         "transform": [{"filter": "datum.p == 1"}],
         "mark": {"type": "text", "dx": 45, "fontSize": 54, "font": "Liberation Sans", "color": "black", "align": "center", "baseline": "middle"},
         "encoding": {
           "x": {"datum": 180, "type": "quantitative", "scale": {"domain": [-180, 180], "nice": false, "zero": false}, "axis": null},
           "y": {"field": "y", "type": "quantitative", "scale": {"type": "log", "domain": [0.0001, 2.99], "nice": false}, "axis": null},
           "text": {"field": "d"}}}
      ],
      "resolve": {"axis": {"x": "independent", "y": "independent"}}
    },
    {
      "width": 1305, "height": 1303,
      "title": {"text": "Ncoc = 0, a(440) = 0.53 m⁻¹", "dx": -1, "offset": 3},
      "transform": [{"filter": "datum.p == 2"}],
      "layer": [
        {"transform": [{"filter": "datum.d != '0'"}],
         "mark": {"type": "line", "color": "black", "strokeWidth": 3.5, "interpolate": "monotone"},
         "encoding": {
           "x": {"field": "x", "type": "quantitative", "scale": {"domain": [-180, 180], "nice": false, "zero": false},
                 "axis": {"orient": "bottom", "title": "viewing angle, degrees", "values": [-180,-135,-90,-45,0,45,90,135,180]}},
           "y": {"field": "y", "type": "quantitative", "scale": {"type": "log", "domain": [1e-6, 3.1], "nice": false},
                 "axis": {"orient": "left", "title": "normalized radiance, sr⁻¹", "values": [1e-6,1e-5,0.0001,0.001,0.01,0.1,1]}},
           "detail": {"field": "d"}}},
        {"transform": [{"filter": "datum.d == '0'"}],
         "mark": {"type": "line", "color": "#ff0000", "strokeWidth": 3, "interpolate": "monotone"},
         "encoding": {
           "x": {"field": "x", "type": "quantitative", "scale": {"domain": [-180, 180], "nice": false, "zero": false},
                 "axis": {"orient": "bottom", "title": null, "labels": false, "domain": false, "tickSize": 24, "values": [-180,-175,-170,-165,-160,-155,-150,-145,-140,-135,-130,-125,-120,-115,-110,-105,-100,-95,-90,-85,-80,-75,-70,-65,-60,-55,-50,-45,-40,-35,-30,-25,-20,-15,-10,-5,0,5,10,15,20,25,30,35,40,45,50,55,60,65,70,75,80,85,90,95,100,105,110,115,120,125,130,135,140,145,150,155,160,165,170,175,180]}},
           "y": {"field": "y", "type": "quantitative", "scale": {"type": "log", "domain": [1e-6, 3.1], "nice": false},
                 "axis": {"orient": "left", "title": null, "labels": false, "domain": false, "tickSize": 24, "values": [2e-6,3e-6,4e-6,5e-6,6e-6,7e-6,8e-6,9e-6,2e-5,3e-5,4e-5,5e-5,6e-5,7e-5,8e-5,9e-5,0.0002,0.0003,0.0004,0.0005,0.0006,0.0007,0.0008,0.0009,0.002,0.003,0.004,0.005,0.006,0.007,0.008,0.009,0.02,0.03,0.04,0.05,0.06,0.07,0.08,0.09,0.2,0.3,0.4,0.5,0.6,0.7,0.8,0.9,2,3]}}}},
        {"data": {"values": [{}]},
         "mark": {"type": "rule", "color": "black", "strokeWidth": 3.5, "strokeDash": [20, 11]},
         "encoding": {"x": {"datum": 0, "type": "quantitative", "scale": {"domain": [-180, 180], "nice": false, "zero": false}, "axis": null}}},
        {"data": {"name": "labels"},
         "transform": [{"filter": "datum.p == 2"}],
         "mark": {"type": "text", "dx": 43, "fontSize": 54, "font": "Liberation Sans", "color": "black", "align": "center", "baseline": "middle"},
         "encoding": {
           "x": {"datum": 180, "type": "quantitative", "scale": {"domain": [-180, 180], "nice": false, "zero": false}, "axis": null},
           "y": {"field": "y", "type": "quantitative", "scale": {"type": "log", "domain": [1e-6, 3.1], "nice": false}, "axis": null},
           "text": {"field": "d"}}}
      ],
      "resolve": {"axis": {"x": "independent", "y": "independent"}}
    },
    {
      "width": 1258, "height": 1270,
      "title": {"text": "Ncoc = 5 10⁶ cell/l, a(440) = 0.09 m⁻¹", "dx": 67, "offset": 45},
      "transform": [{"filter": "datum.p == 3"}],
      "layer": [
        {"transform": [{"filter": "datum.d != '0'"}],
         "mark": {"type": "line", "color": "black", "strokeWidth": 3.5, "interpolate": "monotone"},
         "encoding": {
           "x": {"field": "x", "type": "quantitative", "scale": {"domain": [-180, 180], "nice": false, "zero": false},
                 "axis": {"orient": "bottom", "title": "viewing angle, degrees", "values": [-180,-135,-90,-45,0,45,90,135,180]}},
           "y": {"field": "y", "type": "quantitative", "scale": {"type": "log", "domain": [0.001, 3.4], "nice": false},
                 "axis": {"orient": "left", "title": "normalized radiance, sr⁻¹", "values": [0.001,0.01,0.1,1]}},
           "detail": {"field": "d"}}},
        {"transform": [{"filter": "datum.d == '0'"}],
         "mark": {"type": "line", "color": "#ff0000", "strokeWidth": 3, "interpolate": "monotone"},
         "encoding": {
           "x": {"field": "x", "type": "quantitative", "scale": {"domain": [-180, 180], "nice": false, "zero": false},
                 "axis": {"orient": "bottom", "title": null, "labels": false, "domain": false, "tickSize": 24, "values": [-180,-175,-170,-165,-160,-155,-150,-145,-140,-135,-130,-125,-120,-115,-110,-105,-100,-95,-90,-85,-80,-75,-70,-65,-60,-55,-50,-45,-40,-35,-30,-25,-20,-15,-10,-5,0,5,10,15,20,25,30,35,40,45,50,55,60,65,70,75,80,85,90,95,100,105,110,115,120,125,130,135,140,145,150,155,160,165,170,175,180]}},
           "y": {"field": "y", "type": "quantitative", "scale": {"type": "log", "domain": [0.001, 3.4], "nice": false},
                 "axis": {"orient": "left", "title": null, "labels": false, "domain": false, "tickSize": 24, "values": [0.002,0.003,0.004,0.005,0.006,0.007,0.008,0.009,0.02,0.03,0.04,0.05,0.06,0.07,0.08,0.09,0.2,0.3,0.4,0.5,0.6,0.7,0.8,0.9,2,3]}}}},
        {"data": {"values": [{}]},
         "mark": {"type": "rule", "color": "black", "strokeWidth": 3.5, "strokeDash": [20, 11]},
         "encoding": {"x": {"datum": 0, "type": "quantitative", "scale": {"domain": [-180, 180], "nice": false, "zero": false}, "axis": null}}},
        {"data": {"name": "labels"},
         "transform": [{"filter": "datum.p == 3"}],
         "mark": {"type": "text", "dx": 35, "fontSize": 54, "font": "Liberation Sans", "color": "black", "align": "center", "baseline": "middle"},
         "encoding": {
           "x": {"datum": 180, "type": "quantitative", "scale": {"domain": [-180, 180], "nice": false, "zero": false}, "axis": null},
           "y": {"field": "y", "type": "quantitative", "scale": {"type": "log", "domain": [0.001, 3.4], "nice": false}, "axis": null},
           "text": {"field": "d"}}}
      ],
      "resolve": {"axis": {"x": "independent", "y": "independent"}}
    },
    {
      "width": 1333, "height": 1291,
      "title": {"text": "Ncoc = 5 10⁶ cell/l, a(440) = 0.53 m⁻¹", "dx": 7, "offset": 66},
      "transform": [{"filter": "datum.p == 4"}],
      "layer": [
        {"transform": [{"filter": "datum.d != '0'"}],
         "mark": {"type": "line", "color": "black", "strokeWidth": 3.5, "interpolate": "monotone"},
         "encoding": {
           "x": {"field": "x", "type": "quantitative", "scale": {"domain": [-180, 180], "nice": false, "zero": false},
                 "axis": {"orient": "bottom", "title": "viewing angle, degrees", "values": [-180,-135,-90,-45,0,45,90,135,180]}},
           "y": {"field": "y", "type": "quantitative", "scale": {"type": "log", "domain": [1e-5, 2.42], "nice": false},
                 "axis": {"orient": "left", "title": "normalized radiance, sr⁻¹", "values": [1e-5,0.0001,0.001,0.01,0.1,1]}},
           "detail": {"field": "d"}}},
        {"transform": [{"filter": "datum.d == '0'"}],
         "mark": {"type": "line", "color": "#ff0000", "strokeWidth": 3, "interpolate": "monotone"},
         "encoding": {
           "x": {"field": "x", "type": "quantitative", "scale": {"domain": [-180, 180], "nice": false, "zero": false},
                 "axis": {"orient": "bottom", "title": null, "labels": false, "domain": false, "tickSize": 24, "values": [-180,-175,-170,-165,-160,-155,-150,-145,-140,-135,-130,-125,-120,-115,-110,-105,-100,-95,-90,-85,-80,-75,-70,-65,-60,-55,-50,-45,-40,-35,-30,-25,-20,-15,-10,-5,0,5,10,15,20,25,30,35,40,45,50,55,60,65,70,75,80,85,90,95,100,105,110,115,120,125,130,135,140,145,150,155,160,165,170,175,180]}},
           "y": {"field": "y", "type": "quantitative", "scale": {"type": "log", "domain": [1e-5, 2.42], "nice": false},
                 "axis": {"orient": "left", "title": null, "labels": false, "domain": false, "tickSize": 24, "values": [2e-5,3e-5,4e-5,5e-5,6e-5,7e-5,8e-5,9e-5,0.0002,0.0003,0.0004,0.0005,0.0006,0.0007,0.0008,0.0009,0.002,0.003,0.004,0.005,0.006,0.007,0.008,0.009,0.02,0.03,0.04,0.05,0.06,0.07,0.08,0.09,0.2,0.3,0.4,0.5,0.6,0.7,0.8,0.9,2]}}}},
        {"data": {"values": [{}]},
         "mark": {"type": "rule", "color": "black", "strokeWidth": 3.5, "strokeDash": [20, 11]},
         "encoding": {"x": {"datum": 0, "type": "quantitative", "scale": {"domain": [-180, 180], "nice": false, "zero": false}, "axis": null}}},
        {"data": {"name": "labels"},
         "transform": [{"filter": "datum.p == 4"}],
         "mark": {"type": "text", "dx": 37, "fontSize": 54, "font": "Liberation Sans", "color": "black", "align": "center", "baseline": "middle"},
         "encoding": {
           "x": {"datum": 180, "type": "quantitative", "scale": {"domain": [-180, 180], "nice": false, "zero": false}, "axis": null},
           "y": {"field": "y", "type": "quantitative", "scale": {"type": "log", "domain": [1e-5, 2.42], "nice": false}, "axis": null},
           "text": {"field": "d"}}}
      ],
      "resolve": {"axis": {"x": "independent", "y": "independent"}}
    },
    {
      "width": 1276, "height": 1309,
      "title": {"text": "Ncoc = 10⁷ cell/l, a(440) = 0.09 m⁻¹", "dx": 22, "offset": 31},
      "transform": [{"filter": "datum.p == 5"}],
      "layer": [
        {"transform": [{"filter": "datum.d != '0'"}],
         "mark": {"type": "line", "color": "black", "strokeWidth": 3.5, "interpolate": "monotone"},
         "encoding": {
           "x": {"field": "x", "type": "quantitative", "scale": {"domain": [-180, 180], "nice": false, "zero": false},
                 "axis": {"orient": "bottom", "title": "viewing angle, degrees", "values": [-180,-135,-90,-45,0,45,90,135,180]}},
           "y": {"field": "y", "type": "quantitative", "scale": {"type": "log", "domain": [0.001, 3.18], "nice": false},
                 "axis": {"orient": "left", "title": "normalized radiance, sr⁻¹", "values": [0.001,0.01,0.1,1]}},
           "detail": {"field": "d"}}},
        {"transform": [{"filter": "datum.d == '0'"}],
         "mark": {"type": "line", "color": "#ff0000", "strokeWidth": 3, "interpolate": "monotone"},
         "encoding": {
           "x": {"field": "x", "type": "quantitative", "scale": {"domain": [-180, 180], "nice": false, "zero": false},
                 "axis": {"orient": "bottom", "title": null, "labels": false, "domain": false, "tickSize": 24, "values": [-180,-175,-170,-165,-160,-155,-150,-145,-140,-135,-130,-125,-120,-115,-110,-105,-100,-95,-90,-85,-80,-75,-70,-65,-60,-55,-50,-45,-40,-35,-30,-25,-20,-15,-10,-5,0,5,10,15,20,25,30,35,40,45,50,55,60,65,70,75,80,85,90,95,100,105,110,115,120,125,130,135,140,145,150,155,160,165,170,175,180]}},
           "y": {"field": "y", "type": "quantitative", "scale": {"type": "log", "domain": [0.001, 3.18], "nice": false},
                 "axis": {"orient": "left", "title": null, "labels": false, "domain": false, "tickSize": 24, "values": [0.002,0.003,0.004,0.005,0.006,0.007,0.008,0.009,0.02,0.03,0.04,0.05,0.06,0.07,0.08,0.09,0.2,0.3,0.4,0.5,0.6,0.7,0.8,0.9,2,3]}}}},
        {"data": {"values": [{}]},
         "mark": {"type": "rule", "color": "black", "strokeWidth": 3.5, "strokeDash": [20, 11]},
         "encoding": {"x": {"datum": 0, "type": "quantitative", "scale": {"domain": [-180, 180], "nice": false, "zero": false}, "axis": null}}},
        {"data": {"name": "labels"},
         "transform": [{"filter": "datum.p == 5"}],
         "mark": {"type": "text", "dx": 40, "fontSize": 54, "font": "Liberation Sans", "color": "black", "align": "center", "baseline": "middle"},
         "encoding": {
           "x": {"datum": 180, "type": "quantitative", "scale": {"domain": [-180, 180], "nice": false, "zero": false}, "axis": null},
           "y": {"field": "y", "type": "quantitative", "scale": {"type": "log", "domain": [0.001, 3.18], "nice": false}, "axis": null},
           "text": {"field": "d"}}}
      ],
      "resolve": {"axis": {"x": "independent", "y": "independent"}}
    },
    {
      "width": 1290, "height": 1300,
      "title": {"text": "Ncoc = 10⁷ cell/l, a(440) = 0.53 m⁻¹", "dx": -18, "offset": 6},
      "transform": [{"filter": "datum.p == 6"}],
      "layer": [
        {"transform": [{"filter": "datum.d != '0'"}],
         "mark": {"type": "line", "color": "black", "strokeWidth": 3.5, "interpolate": "monotone"},
         "encoding": {
           "x": {"field": "x", "type": "quantitative", "scale": {"domain": [-180, 180], "nice": false, "zero": false},
                 "axis": {"orient": "bottom", "title": "viewing angle, degrees", "values": [-180,-135,-90,-45,0,45,90,135,180]}},
           "y": {"field": "y", "type": "quantitative", "scale": {"type": "log", "domain": [0.0001, 3.04], "nice": false},
                 "axis": {"orient": "left", "title": "normalized radiance, sr⁻¹", "values": [0.0001,0.001,0.01,0.1,1]}},
           "detail": {"field": "d"}}},
        {"transform": [{"filter": "datum.d == '0'"}],
         "mark": {"type": "line", "color": "#ff0000", "strokeWidth": 3, "interpolate": "monotone"},
         "encoding": {
           "x": {"field": "x", "type": "quantitative", "scale": {"domain": [-180, 180], "nice": false, "zero": false},
                 "axis": {"orient": "bottom", "title": null, "labels": false, "domain": false, "tickSize": 24, "values": [-180,-175,-170,-165,-160,-155,-150,-145,-140,-135,-130,-125,-120,-115,-110,-105,-100,-95,-90,-85,-80,-75,-70,-65,-60,-55,-50,-45,-40,-35,-30,-25,-20,-15,-10,-5,0,5,10,15,20,25,30,35,40,45,50,55,60,65,70,75,80,85,90,95,100,105,110,115,120,125,130,135,140,145,150,155,160,165,170,175,180]}},
           "y": {"field": "y", "type": "quantitative", "scale": {"type": "log", "domain": [0.0001, 3.04], "nice": false},
                 "axis": {"orient": "left", "title": null, "labels": false, "domain": false, "tickSize": 24, "values": [0.0002,0.0003,0.0004,0.0005,0.0006,0.0007,0.0008,0.0009,0.002,0.003,0.004,0.005,0.006,0.007,0.008,0.009,0.02,0.03,0.04,0.05,0.06,0.07,0.08,0.09,0.2,0.3,0.4,0.5,0.6,0.7,0.8,0.9,2,3]}}}},
        {"data": {"values": [{}]},
         "mark": {"type": "rule", "color": "black", "strokeWidth": 3.5, "strokeDash": [20, 11]},
         "encoding": {"x": {"datum": 0, "type": "quantitative", "scale": {"domain": [-180, 180], "nice": false, "zero": false}, "axis": null}}},
        {"data": {"name": "labels"},
         "transform": [{"filter": "datum.p == 6"}],
         "mark": {"type": "text", "dx": 37, "fontSize": 54, "font": "Liberation Sans", "color": "black", "align": "center", "baseline": "middle"},
         "encoding": {
           "x": {"datum": 180, "type": "quantitative", "scale": {"domain": [-180, 180], "nice": false, "zero": false}, "axis": null},
           "y": {"field": "y", "type": "quantitative", "scale": {"type": "log", "domain": [0.0001, 3.04], "nice": false}, "axis": null},
           "text": {"field": "d"}}}
      ],
      "resolve": {"axis": {"x": "independent", "y": "independent"}}
    }
  ],
  "config": {
    "view": {"stroke": null},
    "font": "Liberation Sans",
    "axis": {
      "grid": false,
      "domainColor": "black",
      "domainWidth": 4.5,
      "tickColor": "black",
      "tickWidth": 3.5,
      "tickSize": 44,
      "labelColor": "black",
      "labelFont": "Liberation Sans",
      "labelFontSize": 52,
      "titleColor": "black",
      "titleFont": "Liberation Sans",
      "titleFontSize": 57,
      "titleFontWeight": "normal",
      "labelOverlap": false,
      "labelFlush": false,
      "labelBound": false
    },
    "axisX": {
      "labelPadding": 23,
      "titlePadding": 10,
      "labelExpr": "'' + datum.value"
    },
    "axisY": {
      "labelPadding": 28,
      "titlePadding": 66,
      "titleFontSize": 59,
      "labelExpr": "datum.value < 5e-6 ? '1E-006' : (datum.value < 5e-5 ? '1E-005' : '' + datum.value)"
    },
    "title": {
      "font": "Liberation Serif",
      "fontSize": 88,
      "fontWeight": "normal",
      "color": "black",
      "frame": "group",
      "anchor": "middle"
    }
  }
}
